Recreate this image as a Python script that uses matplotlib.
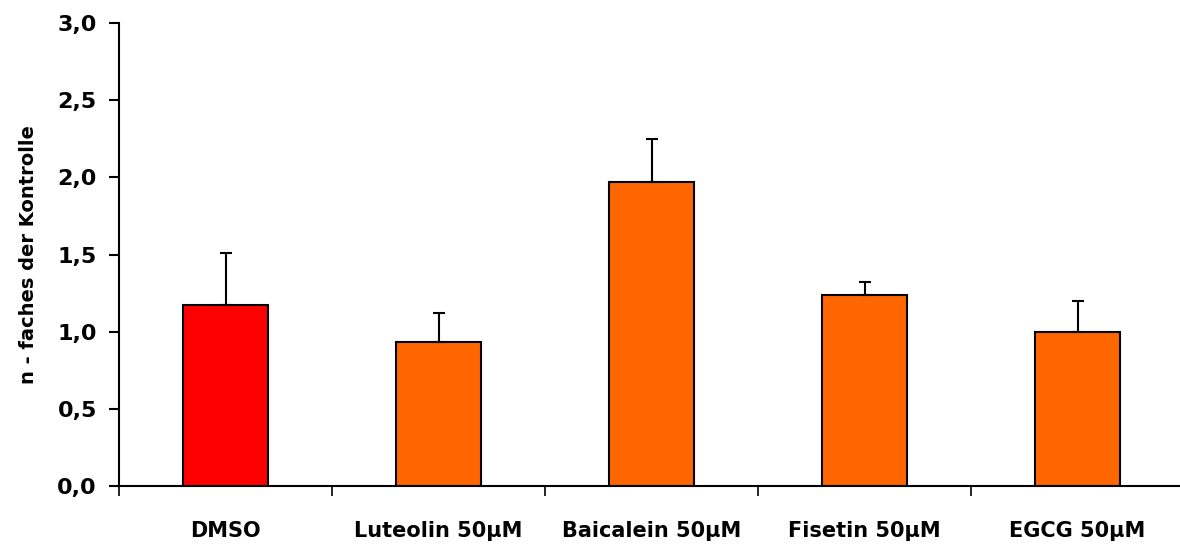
import numpy as np
import matplotlib
matplotlib.use("Agg")
import matplotlib.pyplot as plt
from matplotlib.ticker import FixedLocator, FuncFormatter

# --- data ---
categories = ["DMSO", "Luteolin 50µM", "Baicalein 50µM", "Fisetin 50µM", "EGCG 50µM"]
values = [1.17, 0.93, 1.97, 1.24, 1.00]
errors = [0.34, 0.19, 0.28, 0.08, 0.20]
bar_colors = ["#FF0000", "#FF6600", "#FF6600", "#FF6600", "#FF6600"]

plt.rcParams['font.family'] = ['DejaVu Sans']

fig = plt.figure(figsize=(11.8, 5.46), dpi=100)
ax = fig.add_axes([119 / 1180, 60 / 546, 1065 / 1180, 463 / 546])

x = np.arange(len(categories))
ax.bar(x, values, width=0.4, color=bar_colors, edgecolor="black", linewidth=1.5, zorder=2)
ax.errorbar(x, values, yerr=[np.zeros(len(errors)), errors], fmt="none",
            ecolor="black", elinewidth=1.5, capsize=4, capthick=1.5, zorder=3)

ax.set_xlim(-0.5, len(categories) - 0.5)
ax.set_ylim(0, 3.0)
ax.set_yticks(np.arange(0, 3.01, 0.5))
ax.yaxis.set_major_formatter(FuncFormatter(lambda v, p: f"{v:.1f}".replace(".", ",")))

ax.set_xticks(x)
ax.set_xticklabels(categories, fontsize=15, fontweight="bold")
ax.xaxis.set_minor_locator(FixedLocator(np.arange(-0.5, len(categories), 1.0)))
ax.tick_params(axis="x", which="major", length=0, pad=25)
ax.tick_params(axis="x", which="minor", length=7, width=1.2, direction="out")
ax.tick_params(axis="y", length=7, width=1.5, pad=9, labelsize=16)
for lbl in ax.get_yticklabels():
    lbl.set_fontweight("bold")

ax.set_ylabel("n - faches der Kontrolle", fontsize=14, fontweight="bold", labelpad=14)

ax.spines["top"].set_visible(False)
ax.spines["right"].set_visible(False)
ax.spines["left"].set_linewidth(1.5)
ax.spines["bottom"].set_linewidth(1.5)

fig.savefig("out.png", dpi=100)
